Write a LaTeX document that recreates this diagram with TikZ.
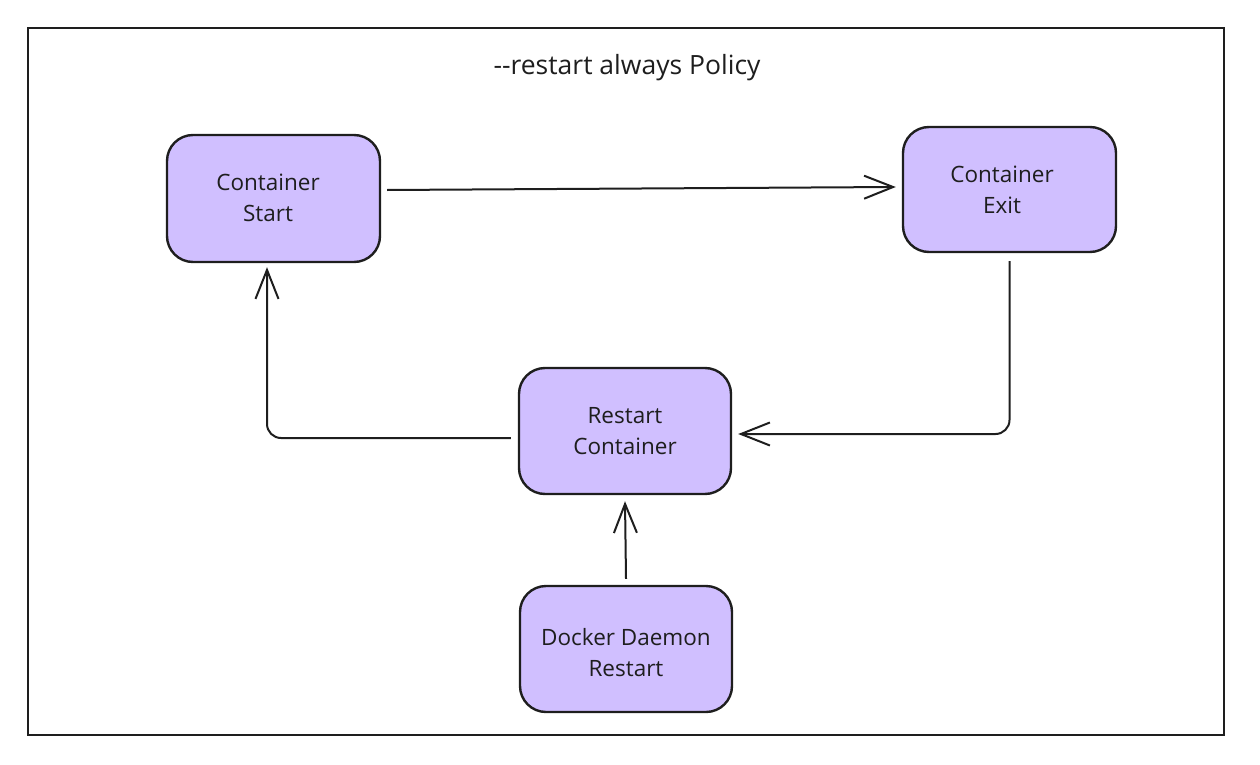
\documentclass[tikz,border=0pt]{standalone}
\usepackage{fontspec}
\setmainfont{Open Sans}
\usetikzlibrary{arrows.meta}
\definecolor{boxfill}{HTML}{D0BFFF}
\definecolor{ink}{HTML}{1E1E1E}
\tikzset{
  procbox/.style={draw=ink, fill=boxfill, line width=2.4pt, rounded corners=26pt},
  lbl/.style={align=center, font=\fontsize{22.5}{31}\selectfont, text=ink},
  conn/.style={draw=ink, line width=2pt, rounded corners=14pt, -{Straight Barb[length=29pt,width=23pt,line width=2pt]}},
}
\begin{document}
\begin{tikzpicture}[x=1pt,y=-1pt]
\useasboundingbox (0,0) rectangle (1260,765);
\draw[ink, line width=2pt] (28,28) rectangle (1224,735);
\node[font=\fontsize{26.5}{30}\selectfont, text=ink] (title) at (627,68) {-{}-restart always Policy};
\node[procbox, minimum width=213pt, minimum height=127pt] (start) at (273.5,198.5) {};
\node[lbl] at (268,198) {Container\\Start};
\node[procbox, minimum width=213pt, minimum height=125pt] (exit) at (1009.5,189.5) {};
\node[lbl] at (1002,190) {Container\\Exit};
\node[procbox, minimum width=212pt, minimum height=126pt] (restart) at (625,431) {};
\node[lbl] at (625,431) {Restart\\Container};
\node[procbox, minimum width=212pt, minimum height=126pt] (daemon) at (626,649) {};
\node[lbl] at (626,653) {Docker Daemon\\Restart};
\coordinate (a1) at ([xshift=6pt,yshift=8.5pt]start.east);
\coordinate (a2) at ([xshift=-6pt,yshift=2.5pt]exit.west);
\draw[conn] (a1) -- (a2);
\coordinate (b1) at ([yshift=-8pt]exit.south);
\coordinate (b2) at ([xshift=6pt,yshift=-3pt]restart.east);
\draw[conn] (b1) |- (b2);
\coordinate (c1) at ([xshift=-7pt,yshift=-7pt]restart.west);
\coordinate (c2) at ([xshift=-6.5pt,yshift=-4pt]start.south);
\draw[conn] (c1) -| (c2);
\draw[conn] ([yshift=6pt]daemon.north) -- ([yshift=-6pt]restart.south);
\end{tikzpicture}
\end{document}
